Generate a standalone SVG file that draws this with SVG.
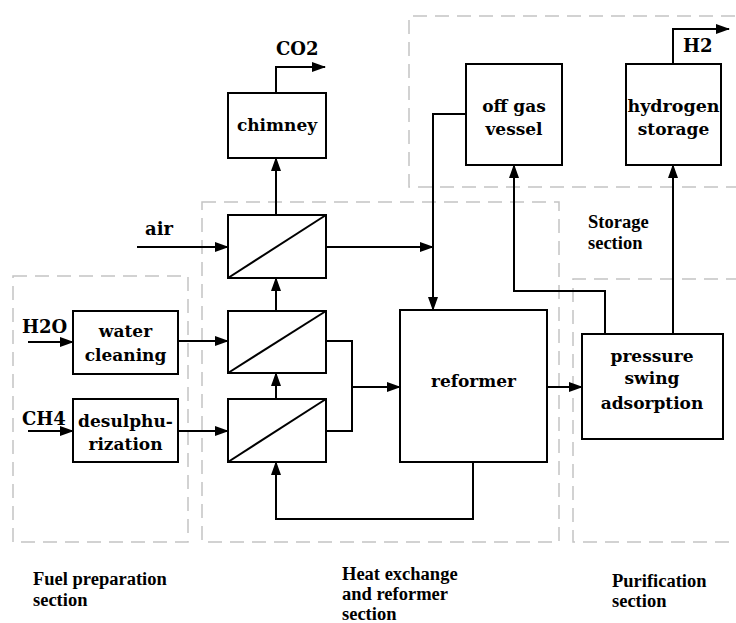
<svg xmlns="http://www.w3.org/2000/svg" width="736" height="623" viewBox="0 0 736 623">
<style>
.box{fill:#fff;stroke:#000;stroke-width:2}
.sec{fill:none;stroke:#c4c4c4;stroke-width:1.5;stroke-dasharray:14 8}
.ln{fill:none;stroke:#000;stroke-width:2}
.arr{fill:none;stroke:#000;stroke-width:2;marker-end:url(#ah)}
.t{font-family:"DejaVu Serif",serif;font-weight:bold;font-size:17px;text-anchor:middle;fill:#000}
.tl{font-family:"DejaVu Serif",serif;font-weight:bold;font-size:18px;fill:#000}
.s{font-family:"Liberation Serif","Times New Roman",serif;font-weight:bold;font-size:18.5px;fill:#000}
</style>
<defs>
<marker id="ah" markerWidth="14" markerHeight="10" refX="13" refY="5" orient="auto" markerUnits="userSpaceOnUse">
<path d="M0,0 L14,5 L0,10 Z" fill="#000"/>
</marker>
</defs>
<rect width="736" height="623" fill="#fff"/>
<g id="sections">
<rect class="sec" x="13" y="276" width="175" height="266"/>
<rect class="sec" x="202" y="202" width="357" height="340"/>
<path class="sec" d="M740,187 H409 V16 H740"/>
<path class="sec" d="M740,279 H573 V542 H740"/>
</g>
<g id="connectors">
<path class="arr" d="M276,93 V67 H325"/>
<path class="arr" d="M276,215 V158"/>
<path class="arr" d="M137,247 H228"/>
<path class="arr" d="M326,247 H433"/>
<path class="arr" d="M466,114 H433 V310"/>
<path class="arr" d="M276,311 V278"/>
<path class="arr" d="M276,399 V373"/>
<path class="arr" d="M28,342 H73"/>
<path class="arr" d="M28,431 H73"/>
<path class="arr" d="M178,341 H228"/>
<path class="arr" d="M178,431 H228"/>
<path class="ln" d="M326,341 H352 V431 H326"/>
<path class="arr" d="M352,387 H400"/>
<path class="arr" d="M547,387 H582"/>
<path class="arr" d="M473,462 V519 H276 V462"/>
<path class="arr" d="M605,334 V291 H514 V165"/>
<path class="arr" d="M673,334 V165"/>
<path class="arr" d="M673,64 V29 H729"/>
</g>
<g id="chimney"><rect class="box" x="228" y="93" width="98" height="65"/><text class="t" x="277" y="131">chimney</text></g>
<g id="hx1"><rect class="box" x="228" y="215" width="98" height="63"/><line class="ln" x1="228" y1="278" x2="326" y2="215"/></g>
<g id="hx2"><rect class="box" x="228" y="311" width="98" height="62"/><line class="ln" x1="228" y1="373" x2="326" y2="311"/></g>
<g id="hx3"><rect class="box" x="228" y="399" width="98" height="63"/><line class="ln" x1="228" y1="462" x2="326" y2="399"/></g>
<g id="water"><rect class="box" x="73" y="311" width="105" height="63"/><text class="t" x="125.5" y="337">water</text><text class="t" x="125.5" y="361">cleaning</text></g>
<g id="desulph"><rect class="box" x="73" y="399" width="105" height="63"/><text class="t" x="125.5" y="427">desulphu-</text><text class="t" x="125.5" y="450">rization</text></g>
<g id="reformer"><rect class="box" x="400" y="310" width="147" height="152"/><text class="t" x="473.5" y="387">reformer</text></g>
<g id="psa"><rect class="box" x="582" y="334" width="141" height="105"/><text class="t" x="652" y="362">pressure</text><text class="t" x="652" y="384">swing</text><text class="t" x="652" y="409">adsorption</text></g>
<g id="offgas"><rect class="box" x="466" y="64" width="96" height="101"/><text class="t" x="514" y="112">off gas</text><text class="t" x="514" y="135">vessel</text></g>
<g id="h2storage"><rect class="box" x="626" y="64" width="95" height="101"/><text class="t" x="673.5" y="112" textLength="92" lengthAdjust="spacingAndGlyphs">hydrogen</text><text class="t" x="673.5" y="135">storage</text></g>
<g id="labels">
<text class="tl" x="276" y="55">CO2</text>
<text class="tl" x="683" y="52">H2</text>
<text class="tl" x="145" y="235">air</text>
<text class="tl" x="22" y="333">H2O</text>
<text class="tl" x="22" y="425">CH4</text>
<text class="s" x="588" y="228">Storage</text>
<text class="s" x="588" y="249">section</text>
<text class="s" x="33" y="585">Fuel preparation</text>
<text class="s" x="33" y="606">section</text>
<text class="s" x="342" y="580">Heat exchange</text>
<text class="s" x="342" y="600">and reformer</text>
<text class="s" x="342" y="620">section</text>
<text class="s" x="612" y="587">Purification</text>
<text class="s" x="612" y="607">section</text>
</g>
</svg>
